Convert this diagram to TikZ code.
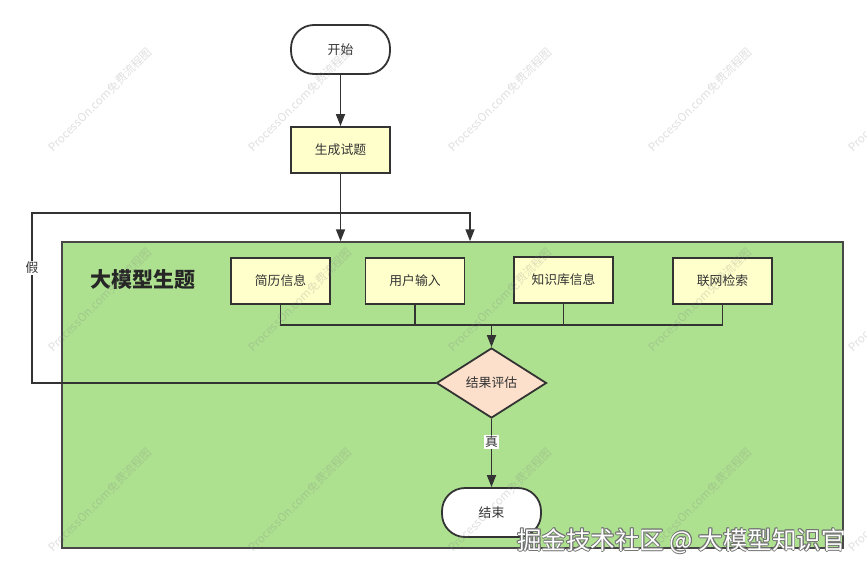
\documentclass[tikz,border=0pt]{standalone}
\usepackage{fontspec}
\setmainfont{Noto Sans CJK SC}
\usetikzlibrary{arrows.meta,shapes.geometric}
\definecolor{lineC}{HTML}{333333}
\definecolor{boxY}{HTML}{FFFFCC}
\definecolor{grpG}{HTML}{ADE190}
\definecolor{decP}{HTML}{FCE0CB}
\tikzset{
  base/.style={draw=lineC,line width=1.8pt,text=lineC,font=\fontsize{12.8}{14}\selectfont,inner sep=0pt},
  term/.style={base,fill=white,minimum width=99pt,minimum height=49pt,rounded corners=23pt},
  proc/.style={base,fill=boxY,minimum width=99pt,minimum height=46pt},
  dec/.style={base,fill=decP,shape=diamond,aspect=1.57,minimum width=110pt,minimum height=70pt},
  grp/.style={draw=lineC!90,line width=1.5pt,fill=grpG,minimum width=781pt,minimum height=306pt,inner sep=0pt},
  conn/.style={draw=lineC,line width=1.7pt},
  arr/.style={conn,-{Triangle[length=12pt,width=9pt]}},
  lbl/.style={fill=white,text=lineC,font=\fontsize{12.8}{14}\selectfont,inner sep=1pt},
  wm/.style={text=gray,opacity=0.25,rotate=45,font=\fontsize{11.5}{12}\selectfont},
}
\begin{document}
\begin{tikzpicture}[x=1pt,y=-1pt]
\useasboundingbox (0,0) rectangle (867,573);
% container
\node[grp] (grp) at (452.5,395) {};
\node[font=\bfseries\fontsize{21}{24}\selectfont,text=black!85] (title) at (143,280) {大模型生题};
% nodes
\node[term] (start) at (340.5,49.5) {开始};
\node[proc] (gen) at (340.5,150) {生成试题};
\node[proc] (b1) at (280.5,281) {简历信息};
\node[proc] (b2) at (415,281) {用户输入};
\node[proc] (b3) at (563.5,280) {知识库信息};
\node[proc] (b4) at (722.5,281) {联网检索};
\node[dec] (dec) at (491.5,383) {结果评估};
\node[term] (end) at (491.5,512.5) {结束};
% connectors
\coordinate (lp) at (32,213);
\coordinate (inB) at (470,213);
\coordinate (bus) at (491.5,325);
\draw[arr] (start) -- (gen);
\draw[arr] (gen) -- (gen |- grp.north);
\draw[arr] (dec.west) -| (lp) -- (inB) -- (inB |- grp.north);
\node[lbl] (lf) at (32,268) {假};
\draw[conn] (b1.south) |- (b4.south |- bus) -- (b4.south);
\draw[conn] (b2.south) -- (b2.south |- bus);
\draw[conn] (b3.south) -- (b3.south |- bus);
\draw[arr] (bus) -- (dec.north);
\draw[arr] (dec.south) -- node[lbl,pos=0.34] (lt) {真} (end.north);
% watermarks
\foreach \cx in {100,300,500,700,900}{
  \foreach \cy in {100,300,500}{
    \node[wm] at (\cx,\cy) {ProcessOn.com免费流程图};
  }
}
% bottom-right watermark
\foreach \dx/\dy in {-0.8/0,0.8/0,0/-0.8,0/0.8,-0.6/-0.6,0.6/0.6,-0.6/0.6,0.6/-0.6}{
  \node[text=gray!90!black,font=\fontsize{24.5}{27}\selectfont] at (681.5+\dx,541+\dy) {掘金技术社区 @ 大模型知识官};
}
\node[text=white,font=\fontsize{24.5}{27}\selectfont] (wmk) at (681.5,541) {掘金技术社区 @ 大模型知识官};
\end{tikzpicture}
\end{document}
